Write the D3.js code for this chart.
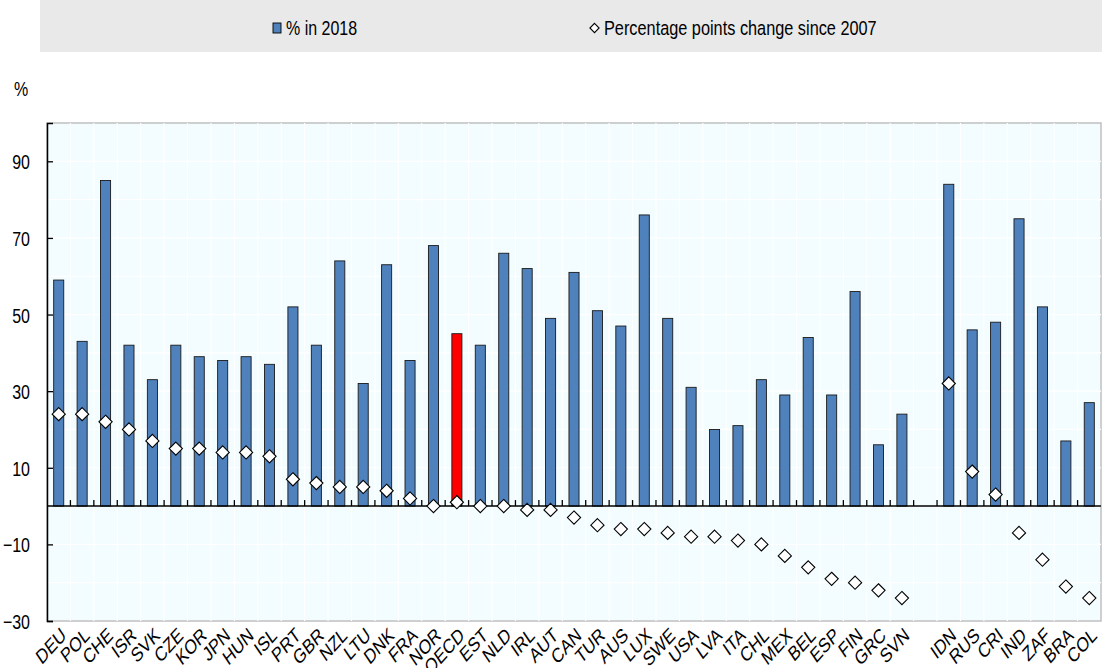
<!DOCTYPE html>
<html>
<head>
<meta charset="utf-8">
<script src="https://cdn.jsdelivr.net/npm/d3@7"></script>
<style>
  body { margin: 0; background: #fff; }
  text { font-family: "Liberation Sans", Arial, sans-serif; fill: #000; }
</style>
</head>
<body>
<svg id="chart" width="1102" height="668"></svg>
<script>
// categories ("" is the gap between OECD and partner countries)
var countries = ["DEU","POL","CHE","ISR","SVK","CZE","KOR","JPN","HUN","ISL","PRT","GBR","NZL","LTU","DNK","FRA","NOR","OECD","EST","NLD","IRL","AUT","CAN","TUR","AUS","LUX","SWE","USA","LVA","ITA","CHL","MEX","BEL","ESP","FIN","GRC","SVN","","IDN","RUS","CRI","IND","ZAF","BRA","COL"];
// % in 2018
var share2018 = [59,43,85,42,33,42,39,38,39,37,52,42,64,32,63,38,68,45,42,66,62,49,61,51,47,76,49,31,20,21,33,29,44,29,56,16,24,null,84,46,48,75,52,17,27];
// percentage points change since 2007
var change = [24,24,22,20,17,15,15,14,14,13,7,6,5,5,4,2,0,1,0,0,-1,-1,-3,-5,-6,-6,-7,-8,-8,-9,-10,-13,-16,-19,-20,-22,-24,null,32,9,3,-7,-14,-21,-24];
var yTicks = [90,70,50,30,10,-10,-30];

var svg = d3.select("#chart");
var pLeft = 47, pRight = 1101, pTop = 123, pBottom = 621;
var stretch = 1.27; // text in the picture is taller than wide
var fs = "16px";

var x = d3.scaleBand().domain(d3.range(countries.length)).range([pLeft, pRight]).paddingInner(0.57).paddingOuter(0.285);
var xs = d3.scaleBand().domain(d3.range(countries.length)).range([pLeft, pRight]);
var y = d3.scaleLinear().domain([-30, 100]).range([pBottom, pTop]);

function diamond(r) { return "M0," + (-r) + "L" + r + ",0L0," + r + "L" + (-r) + ",0Z"; }

// legend band
svg.append("rect").attr("x", 40).attr("y", 0).attr("width", 1062).attr("height", 52).attr("fill", "#e9e9e9");
svg.append("rect").attr("x", 273).attr("y", 23).attr("width", 8).attr("height", 10)
    .attr("fill", "#4f81bd").attr("stroke", "#000").attr("stroke-width", 0.9);
svg.append("text").attr("transform", "translate(286,35) scale(1," + stretch + ")")
    .style("font-size", fs).text("% in 2018");
svg.append("path").attr("d", diamond(4.6)).attr("transform", "translate(594.5,28)")
    .attr("fill", "#fff").attr("stroke", "#000").attr("stroke-width", 1.1);
svg.append("text").attr("transform", "translate(604,35) scale(1," + stretch + ")")
    .style("font-size", "16.3px").text("Percentage points change since 2007");

// unit
svg.append("text").attr("transform", "translate(14,96) scale(1," + stretch + ")")
    .style("font-size", fs).text("%");

// panel
svg.append("rect").attr("x", pLeft).attr("y", pTop).attr("width", pRight - pLeft).attr("height", pBottom - pTop)
    .attr("fill", "#f3fcfe").attr("stroke", "#c0c0c0").attr("stroke-width", 1.5);

// faint grid
svg.append("g").selectAll("line").data(d3.range(-20, 100, 10)).enter().append("line")
    .attr("x1", pLeft).attr("x2", pRight).attr("y1", d => y(d)).attr("y2", d => y(d))
    .attr("stroke", "#ffffff").attr("stroke-width", 1.2);
svg.append("g").selectAll("line").data(d3.range(1, countries.length)).enter().append("line")
    .attr("x1", d => xs(d)).attr("x2", d => xs(d)).attr("y1", pTop).attr("y2", pBottom)
    .attr("stroke", "#ffffff").attr("stroke-width", 1.2);

// bars
svg.append("g").selectAll("rect")
    .data(share2018.map((v, i) => ({v: v, i: i})).filter(d => d.v != null))
    .enter().append("rect")
    .attr("x", d => x(d.i)).attr("width", x.bandwidth())
    .attr("y", d => y(d.v)).attr("height", d => y(0) - y(d.v))
    .attr("fill", d => countries[d.i] == "OECD" ? "#ff0000" : "#4f81bd")
    .attr("stroke", "#1a1a1a").attr("stroke-width", 0.9);

// zero line and x ticks
svg.append("line").attr("x1", pLeft).attr("x2", pRight).attr("y1", y(0)).attr("y2", y(0))
    .attr("stroke", "#000").attr("stroke-width", 1.5);
svg.append("g").selectAll("line").data(d3.range(1, countries.length)).enter().append("line")
    .attr("x1", d => xs(d)).attr("x2", d => xs(d)).attr("y1", y(0)).attr("y2", y(0) - 6)
    .attr("stroke", "#000").attr("stroke-width", 1.3);

// y axis
var yAxis = d3.axisLeft(y).tickValues(yTicks).tickSize(-6).tickPadding(10);
var ya = svg.append("g").attr("transform", "translate(" + pLeft + ",0)").call(yAxis);
ya.select(".domain").attr("stroke", "#000").attr("stroke-width", 1.5);
ya.selectAll(".tick line").attr("stroke", "#000").attr("stroke-width", 1.3);
ya.selectAll(".tick text").attr("x", null).attr("dy", null)
    .attr("text-anchor", "end").style("font-size", fs)
    .attr("transform", "translate(-17,7.5) scale(1," + stretch + ")");

// diamonds
svg.append("g").selectAll("path")
    .data(change.map((v, i) => ({v: v, i: i})).filter(d => d.v != null))
    .enter().append("path")
    .attr("d", diamond(6.6))
    .attr("transform", d => "translate(" + (x(d.i) + x.bandwidth() / 2) + "," + y(d.v) + ")")
    .attr("fill", "#fff").attr("stroke", "#000").attr("stroke-width", 1.1);

// category labels
svg.append("g").selectAll("text")
    .data(countries.map((c, i) => ({c: c, i: i})).filter(d => d.c != ""))
    .enter().append("text")
    .attr("transform", d => "translate(" + (x(d.i) + x.bandwidth() / 2 + 1) + "," + (pBottom + 5) + ") scale(1," + stretch + ") rotate(-41)")
    .attr("text-anchor", "end").attr("dy", "0.72em")
    .style("font-size", fs).text(d => d.c);
</script>
</body>
</html>
